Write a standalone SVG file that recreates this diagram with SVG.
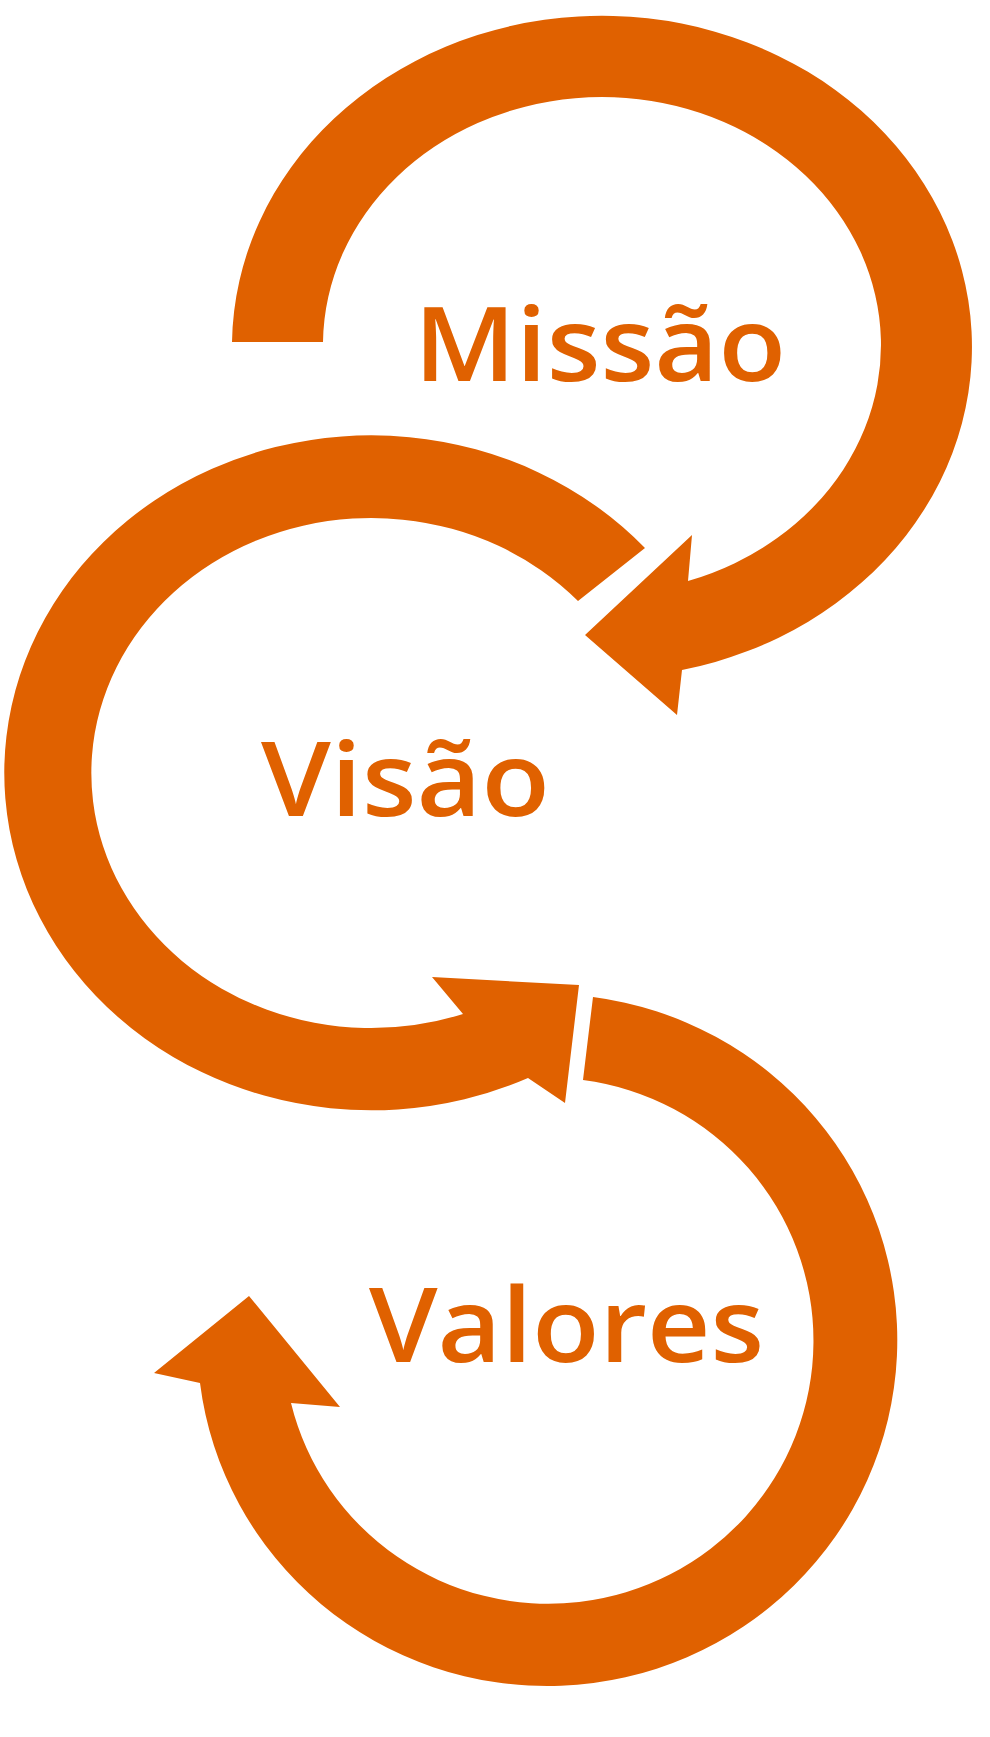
<svg xmlns="http://www.w3.org/2000/svg" width="990" height="1737" viewBox="0 0 990 1737">
<style>
.arrow{fill:#E06100;stroke:none}
.label{fill:#E06100;font-family:"Open Sans","Noto Sans","Liberation Sans",sans-serif;font-weight:600;font-size:104px}
</style>
<rect width="990" height="1737" fill="#ffffff"/>
<g id="connectors">
<path id="arrow-missao" class="arrow" d="M232,342 A370,331 0 1 1 682,670 L677,715 L585,635 L692,535 L688,581 A279,248 0 1 0 323,342 Z"/>
<path id="arrow-visao" class="arrow" d="M645,548 A367,337.5 0 1 0 528,1078 L565,1103 L579,985 L432,977 L463,1014 A280,255 0 1 1 578,601 Z"/>
<path id="arrow-valores" class="arrow" d="M593,997 A350,346 0 1 1 200,1383 L154,1373 L249,1296 L340,1407 L291,1403 A265,263 0 1 0 583,1080 Z"/>
</g>
<g id="node-missao">
<text class="label" x="414" y="381" textLength="372" lengthAdjust="spacingAndGlyphs">Missão</text>
</g>
<g id="node-visao">
<text class="label" x="261" y="816" textLength="289" lengthAdjust="spacingAndGlyphs">Visão</text>
</g>
<g id="node-valores">
<text class="label" x="369" y="1362" textLength="395" lengthAdjust="spacingAndGlyphs">Valores</text>
</g>
</svg>
